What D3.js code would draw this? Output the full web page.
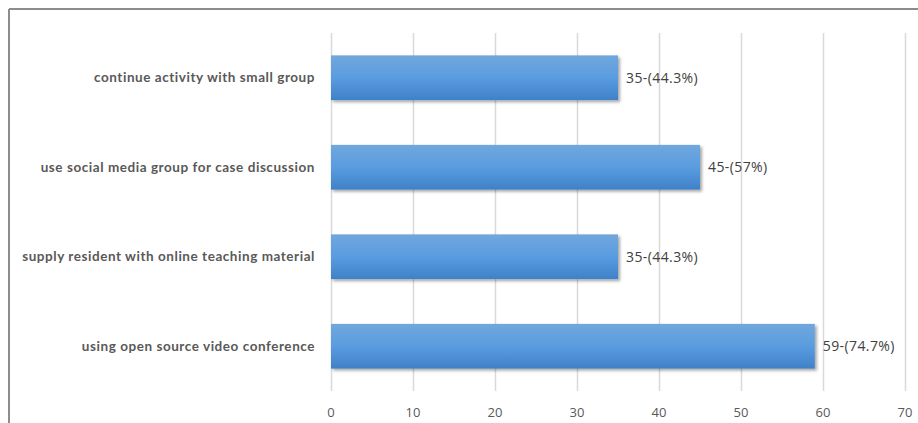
<!DOCTYPE html>
<html>
<head>
<meta charset="utf-8">
<script src="https://cdn.jsdelivr.net/npm/d3@7"></script>
<style>
  body { margin: 0; background: #fff; }
  svg { display: block; }
</style>
</head>
<body>
<svg id="chart" width="918" height="423"></svg>
<script>
// data, top to bottom
const categories = [
  "continue activity with small group",
  "use social media group for case discussion",
  "supply resident with online teaching material",
  "using open source video conference"
];
const counts = [35, 45, 35, 59];
const pctLabels = ["44.3%", "57%", "44.3%", "74.7%"];
const xTicks = [0, 10, 20, 30, 40, 50, 60, 70];

const svg = d3.select("#chart");

// outer frame (only top + left show in the crop)
svg.append("line").attr("x1", 9).attr("x2", 918).attr("y1", 9).attr("y2", 9)
  .attr("stroke", "#8c8c8c").attr("stroke-width", 2);
svg.append("line").attr("x1", 9).attr("x2", 9).attr("y1", 9).attr("y2", 423)
  .attr("stroke", "#8c8c8c").attr("stroke-width", 2);

const x = d3.scaleLinear().domain([0, 70]).range([331, 905]);
const y = d3.scaleBand().domain(categories).range([33, 391]).paddingInner(0.5).paddingOuter(0.25);

const defs = svg.append("defs");
const grad = defs.append("linearGradient").attr("id", "barGrad")
  .attr("x1", 0).attr("y1", 0).attr("x2", 0).attr("y2", 1);
grad.append("stop").attr("offset", "0%").attr("stop-color", "#71a7dd");
grad.append("stop").attr("offset", "50%").attr("stop-color", "#5a9ce0");
grad.append("stop").attr("offset", "100%").attr("stop-color", "#3f81c8");

const shadow = defs.append("filter").attr("id", "shadow")
  .attr("x", "-5%").attr("y", "-20%").attr("width", "115%").attr("height", "150%");
shadow.append("feDropShadow").attr("dx", 2).attr("dy", 2).attr("stdDeviation", 1.5)
  .attr("flood-color", "#000").attr("flood-opacity", 0.35);

// vertical gridlines
svg.append("g").selectAll("line").data(xTicks).join("line")
  .attr("x1", d => x(d) + 0.5).attr("x2", d => x(d) + 0.5)
  .attr("y1", 33).attr("y2", 391)
  .attr("stroke", "#d9d9d9").attr("stroke-width", 1.5);

// x axis tick labels
svg.append("g").selectAll("text").data(xTicks).join("text")
  .attr("x", d => x(d)).attr("y", 417)
  .attr("text-anchor", "middle")
  .attr("font-family", "'Open Sans', sans-serif")
  .attr("font-size", 13)
  .attr("fill", "#595959")
  .text(d => d);

// bars
svg.append("g").selectAll("rect").data(categories).join("rect")
  .attr("x", x(0))
  .attr("y", d => y(d))
  .attr("width", (d, i) => x(counts[i]) - x(0))
  .attr("height", y.bandwidth())
  .attr("fill", "url(#barGrad)")
  .attr("filter", "url(#shadow)");

// value labels
svg.append("g").selectAll("text").data(categories).join("text")
  .attr("x", (d, i) => x(counts[i]) + 8)
  .attr("y", d => y(d) + y.bandwidth() / 2 + 5)
  .attr("font-family", "'Open Sans', sans-serif")
  .attr("font-size", 14)
  .attr("letter-spacing", 0.4)
  .attr("fill", "#404040")
  .text((d, i) => counts[i] + "-(" + pctLabels[i] + ")");

// category labels
svg.append("g").selectAll("text").data(categories).join("text")
  .attr("x", 315)
  .attr("y", d => y(d) + y.bandwidth() / 2 + 4.5)
  .attr("text-anchor", "end")
  .attr("font-family", "Lato, sans-serif")
  .attr("font-weight", "bold")
  .attr("font-size", 13.5)
  .attr("letter-spacing", 0.55)
  .attr("fill", "#595959")
  .text(d => d);
</script>
</body>
</html>
